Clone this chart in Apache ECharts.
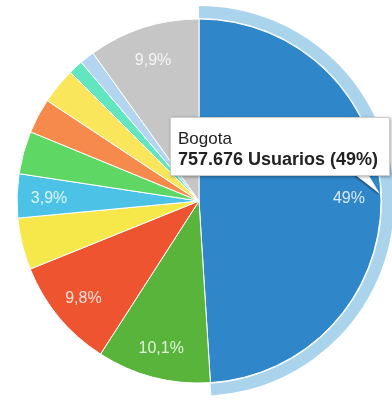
<!DOCTYPE html>
<html>
<head>
<meta charset="utf-8">
<title>Usuarios por ciudad</title>
<script src="https://cdn.jsdelivr.net/npm/echarts@6/dist/echarts.min.js"></script>
<style>
  html, body { margin: 0; padding: 0; background: #ffffff; }
  #chart { width: 392px; height: 406px; }
</style>
</head>
<body>
<div id="chart"></div>
<script>
// Usuarios por ciudad
const cities = ['Bogota', 'Medellín', 'Cali', 'Barranquilla', 'Bucaramanga', 'Cartagena',
                'Pereira', 'Cúcuta', 'Manizales', 'Ibagué', 'Otros'];
const users = [757676, 156176, 151537, 71130, 60306, 58759, 47935, 49482, 20102, 20102, 153084];
const sliceColors = ['#2f87ca', '#58b43a', '#ef5430', '#f6e84a', '#4cc3e6', '#5fd764',
                     '#f58a4c', '#fae65a', '#62e6bf', '#b4d5ef', '#c6c6c6'];
// slices whose percentage is printed on the slice
const labelled = ['Bogota', 'Medellín', 'Cali', 'Bucaramanga', 'Otros'];
const highlighted = 'Bogota';

const total = users.reduce((a, b) => a + b, 0);

function pctText(v) {
  const p = Math.round(v / total * 1000) / 10;
  const s = (p % 1 === 0) ? p.toFixed(0) : p.toFixed(1);
  return s.replace('.', ',') + '%';
}
function thousands(v) {
  return String(v).replace(/\B(?=(\d{3})+(?!\d))/g, '.');
}

const center = [199, 201];
const font = 'Liberation Sans, Arial, sans-serif';

const mainData = cities.map((c, i) => ({
  name: c, value: users[i], itemStyle: { color: sliceColors[i] }
}));

const labelData = cities.map((c, i) => ({
  name: c, value: users[i],
  label: { show: labelled.includes(c) }
}));

const haloData = cities.map((c, i) => ({
  name: c, value: users[i],
  itemStyle: { color: c === highlighted ? '#a9d4ec' : 'rgba(0,0,0,0)' }
}));

const chart = echarts.init(document.getElementById('chart'), null, { renderer: 'canvas' });

chart.setOption({
  animation: false,
  // small pointer under the tooltip box, aimed at the highlighted slice
  graphic: [{
    type: 'polygon',
    z: 100,
    shape: { points: [[354, 174], [368, 174], [380, 194]] },
    style: {
      fill: '#ffffff',
      shadowBlur: 2,
      shadowOffsetX: -1,
      shadowOffsetY: 1,
      shadowColor: 'rgba(0,0,0,0.45)'
    }
  }],
  tooltip: {
    trigger: 'item',
    triggerOn: 'none',
    alwaysShowContent: true,
    transitionDuration: 0,
    position: [170, 117],
    padding: [10, 8, 5, 7],
    backgroundColor: '#ffffff',
    borderColor: '#cccccc',
    borderWidth: 1,
    extraCssText: 'border-radius:0;box-shadow:1px 1px 3px rgba(0,0,0,0.35);width:203px;',
    formatter: function (p) {
      if (p.seriesIndex !== 0) return '';
      return '<div style="font-family:' + font + ';line-height:21px;color:#222;white-space:nowrap;">' +
        '<div style="font-size:17px;">' + p.name + '</div>' +
        '<div style="font-size:18px;font-weight:bold;">' + thousands(p.value) +
        ' Usuarios (' + pctText(p.value) + ')</div></div>';
    }
  },
  series: [
    {
      name: 'Usuarios',
      type: 'pie',
      center: center,
      radius: [0, 182],
      startAngle: 90,
      clockwise: true,
      avoidLabelOverlap: false,
      label: { show: false },
      labelLine: { show: false },
      emphasis: { disabled: true },
      itemStyle: { borderColor: '#ffffff', borderWidth: 1 },
      data: mainData
    },
    {
      name: 'halo',
      type: 'pie',
      center: center,
      radius: [183, 195],
      startAngle: 90,
      silent: true,
      label: { show: false },
      labelLine: { show: false },
      emphasis: { disabled: true },
      data: haloData
    },
    {
      name: 'etiquetas',
      type: 'pie',
      center: center,
      radius: [112, 182],
      startAngle: 90,
      silent: true,
      avoidLabelOverlap: false,
      itemStyle: { color: 'rgba(0,0,0,0)' },
      label: {
        position: 'inside',
        color: 'rgba(255,255,255,0.82)',
        fontFamily: font,
        fontSize: 16,
        offset: [0, 2],
        formatter: function (p) { return pctText(p.value); }
      },
      labelLine: { show: false },
      emphasis: { disabled: true },
      data: labelData
    }
  ]
});

chart.dispatchAction({ type: 'showTip', seriesIndex: 0, dataIndex: 0 });
</script>
</body>
</html>
